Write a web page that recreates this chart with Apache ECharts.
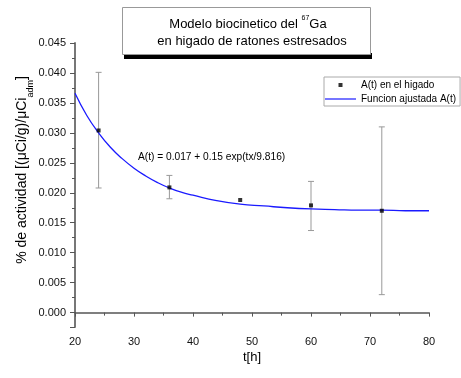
<!DOCTYPE html>
<html><head><meta charset="utf-8">
<script src="https://cdn.jsdelivr.net/npm/echarts@6/dist/echarts.min.js"></script>
<style>html,body{margin:0;padding:0;background:#fff}#c{width:461px;height:378px}</style>
</head><body><div id="c"></div>
<script>
// Measured data: A(t) in liver
const times = [24, 36, 48, 60, 72];
const activity = [0.0304, 0.0209, 0.0188, 0.0179, 0.0170];
const errLow = [0.0208, 0.0190, null, 0.0137, 0.0030];
const errHigh = [0.0401, 0.0229, null, 0.0219, 0.0310];
// Fitted curve
const fitTimes = [20, 22, 24, 26, 28, 30, 32, 34, 36, 38, 40, 44, 48, 52, 56, 60, 64, 68, 72, 76, 80];
const fitValues = [0.0366, 0.0329, 0.0300, 0.0276, 0.0257, 0.0241, 0.0228, 0.0217, 0.0208, 0.0201, 0.0196, 0.0187, 0.0181, 0.0178, 0.0175, 0.0173, 0.0172, 0.0171, 0.0171, 0.0170, 0.0170];
const seriesNames = ['A(t) en el higado', 'Funcion ajustada A(t)'];

const FONT = 'Arial, "Liberation Sans", sans-serif';
const chart = echarts.init(document.getElementById('c'), null, {renderer: 'canvas'});

const errData = times.map((t, i) => [t, errLow[i], errHigh[i]]).filter(d => d[1] != null);

chart.setOption({
  animation: false,
  backgroundColor: '#fff',
  textStyle: {fontFamily: FONT},
  grid: {left: 75, right: 32, top: 43, bottom: 51, containLabel: false},
  xAxis: {
    type: 'value', min: 20, max: 80, interval: 10,
    name: 't[h]', nameLocation: 'middle', nameGap: 24, nameMoveOverlap: false,
    nameTextStyle: {fontSize: 13, color: '#000', fontFamily: FONT},
    axisLine: {show: true, lineStyle: {color: '#555', width: 1.5}},
    axisTick: {show: true, length: 4, lineStyle: {color: '#555'}},
    minorTick: {show: true, splitNumber: 2, length: 3, lineStyle: {color: '#555'}},
    splitLine: {show: false},
    axisLabel: {fontSize: 11, color: '#111', margin: 9, fontFamily: FONT}
  },
  yAxis: {
    type: 'value', min: -0.0024, max: 0.045, splitNumber: 9,
    name: '{a|% de actividad [(μCi/g)/μCi}{sub|adm}{a|]}', nameLocation: 'middle', nameGap: 43, nameRotate: 90,
    nameMoveOverlap: false,
    nameTextStyle: {
      color: '#000',
      padding: [0, 0, 0, 30],
      rich: {
        a: {fontSize: 14, lineHeight: 17, verticalAlign: 'top', color: '#000', fontFamily: FONT},
        sub: {fontSize: 9, lineHeight: 9, padding: [11, 0, 0, 0], verticalAlign: 'top', color: '#000', fontFamily: FONT}
      }
    },
    axisLine: {show: true, lineStyle: {color: '#777', width: 2}},
    axisTick: {show: true, length: 5, lineStyle: {color: '#555'}},
    minorTick: {show: true, splitNumber: 2, length: 3, lineStyle: {color: '#555'}},
    splitLine: {show: false},
    axisLabel: {fontSize: 11, color: '#111', margin: 9, fontFamily: FONT, showMinLabel: false,
      formatter: v => v.toFixed(3)}
  },
  legend: {
    orient: 'vertical', left: 324, top: 77,
    data: [
      {name: seriesNames[0], icon: 'path://M0 0h4v4h-4z'},
      {name: seriesNames[1], icon: 'path://M0 0h31v1.2h-31z'}
    ],
    itemWidth: 31, itemHeight: 4, itemGap: 4,
    padding: [3, 4, 2, 1],
    borderColor: '#aaa', borderWidth: 1,
    textStyle: {fontSize: 10, color: '#000', fontFamily: FONT}
  },
  graphic: [
    {type: 'rect', z: 10, shape: {x: 124, y: 53, width: 248, height: 6}, style: {fill: '#000'}},
    {type: 'rect', z: 11, shape: {x: 122.5, y: 7.5, width: 248, height: 47}, style: {fill: '#fff', stroke: '#999', lineWidth: 1}},
    {type: 'text', z: 12, x: 248, y: 15, style: {
      text: '{a|Modelo biocinetico del }{sup|67}{a|Ga}', align: 'center', verticalAlign: 'top',
      rich: {
        a: {fontSize: 13, lineHeight: 16, verticalAlign: 'bottom', fill: '#000', fontFamily: FONT},
        sup: {fontSize: 7, lineHeight: 9, verticalAlign: 'top', fill: '#000', fontFamily: FONT}
      }
    }},
    {type: 'text', z: 12, x: 252, y: 35, style: {
      text: 'en higado de ratones estresados', align: 'center', verticalAlign: 'top',
      fontSize: 13, fill: '#000', fontFamily: FONT
    }},
    {type: 'text', z: 12, x: 138, y: 152, style: {
      text: 'A(t) = 0.017 + 0.15 exp(tx/9.816)', align: 'left', verticalAlign: 'top',
      fontSize: 10.2, fill: '#000', fontFamily: FONT
    }}
  ],
  series: [
    {
      type: 'custom', name: 'err', z: 1, silent: true,
      data: errData,
      encode: {x: 0, y: [1, 2]},
      renderItem: function (params, api) {
        const x = api.value(0), lo = api.value(1), hi = api.value(2);
        const p1 = api.coord([x, lo]), p2 = api.coord([x, hi]);
        const w = 3;
        const st = {stroke: '#999', lineWidth: 1};
        return {type: 'group', children: [
          {type: 'line', shape: {x1: p1[0], y1: p1[1], x2: p2[0], y2: p2[1]}, style: st},
          {type: 'line', shape: {x1: p1[0] - w, y1: p1[1], x2: p1[0] + w, y2: p1[1]}, style: st},
          {type: 'line', shape: {x1: p2[0] - w, y1: p2[1], x2: p2[0] + w, y2: p2[1]}, style: st}
        ]};
      }
    },
    {
      type: 'line', name: seriesNames[1], z: 2, smooth: true, symbol: 'none',
      data: fitTimes.map((t, i) => [t, fitValues[i]]),
      lineStyle: {color: '#1a1aff', width: 1.3},
      itemStyle: {color: '#1a1aff'}
    },
    {
      type: 'scatter', name: seriesNames[0], z: 3, symbol: 'rect', symbolSize: 4,
      data: times.map((t, i) => [t, activity[i]]),
      itemStyle: {color: '#000'}
    }
  ]
});
</script>
</body></html>
